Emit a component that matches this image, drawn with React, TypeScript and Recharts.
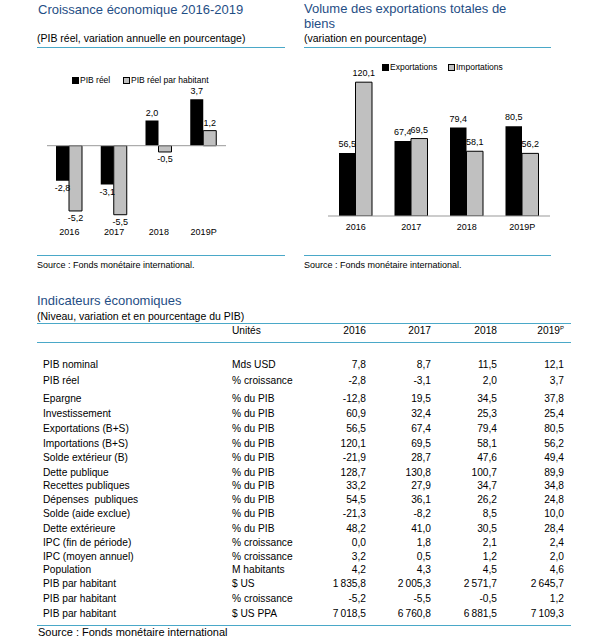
import React from 'react';
import { BarChart, Bar, XAxis, YAxis, ReferenceLine, LabelList } from 'recharts';

const YEARS = ['2016', '2017', '2018', '2019P'];
const PIB_REEL = [-2.8, -3.1, 2.0, 3.7];
const PIB_REEL_HABITANT = [-5.2, -5.5, -0.5, 1.2];
const EXPORTATIONS = [56.5, 67.4, 79.4, 80.5];
const IMPORTATIONS = [120.1, 69.5, 58.1, 56.2];

const TABLE_YEARS = ['2016', '2017', '2018', '2019'];
const INDICATEURS = [
  'PIB nominal',
  'PIB réel',
  'Epargne',
  'Investissement',
  'Exportations (B+S)',
  'Importations (B+S)',
  'Solde extérieur (B)',
  'Dette publique',
  'Recettes publiques',
  'Dépenses  publiques',
  'Solde (aide exclue)',
  'Dette extérieure',
  'IPC (fin de période)',
  'IPC (moyen annuel)',
  'Population',
  'PIB par habitant',
  'PIB par habitant',
  'PIB par habitant',
];
const UNITES = [
  'Mds USD',
  '% croissance',
  '% du PIB',
  '% du PIB',
  '% du PIB',
  '% du PIB',
  '% du PIB',
  '% du PIB',
  '% du PIB',
  '% du PIB',
  '% du PIB',
  '% du PIB',
  '% croissance',
  '% croissance',
  'M habitants',
  '$ US',
  '% croissance',
  '$ US PPA',
];
const VALEURS_2016 = [7.8, -2.8, -12.8, 60.9, 56.5, 120.1, -21.9, 128.7, 33.2, 54.5, -21.3, 48.2, 0.0, 3.2, 4.2, 1835.8, -5.2, 7018.5];
const VALEURS_2017 = [8.7, -3.1, 19.5, 32.4, 67.4, 69.5, 28.7, 130.8, 27.9, 36.1, -8.2, 41.0, 1.8, 0.5, 4.3, 2005.3, -5.5, 6760.8];
const VALEURS_2018 = [11.5, 2.0, 34.5, 25.3, 79.4, 58.1, 47.6, 100.7, 34.7, 26.2, 8.5, 30.5, 2.1, 1.2, 4.5, 2571.7, -0.5, 6881.5];
const VALEURS_2019 = [12.1, 3.7, 37.8, 25.4, 80.5, 56.2, 49.4, 89.9, 34.8, 24.8, 10.0, 28.4, 2.4, 2.0, 4.6, 2645.7, 1.2, 7109.3];

// row pitch of the table (layout only)
const ROW_PITCH = [16, 18, 15, 15, 15, 14, 15, 13, 14, 14, 15, 14, 14, 13, 14, 15, 15, 14];

const FONT = '"Liberation Sans", Arial, sans-serif';
const TITLE_COLOR = '#1f4e85';
const RULE_COLOR = '#4aa8c8';

function fmt(v: number) {
  const s = Math.abs(v).toFixed(1);
  const [int, dec] = s.split('.');
  const grouped = int.replace(/\B(?=(\d{3})+(?!\d))/g, '\u2009');
  return (v < 0 ? '-' : '') + grouped + ',' + dec;
}

const growthData = YEARS.map((year, i) => ({
  year,
  pib: PIB_REEL[i],
  hab: PIB_REEL_HABITANT[i],
}));

const tradeData = YEARS.map((year, i) => ({
  year,
  exp: EXPORTATIONS[i],
  imp: IMPORTATIONS[i],
}));

const tableRows = INDICATEURS.map((label, i) => ({
  label,
  unit: UNITES[i],
  values: [VALEURS_2016[i], VALEURS_2017[i], VALEURS_2018[i], VALEURS_2019[i]],
}));

const SignLabel = (props: any) => {
  const { x, y, width, height, value } = props;
  const top = Math.min(y, y + height);
  const bottom = Math.max(y, y + height);
  const ty = value >= 0 ? top - 5 : bottom + 10;
  return (
    <text x={x + width / 2} y={ty} textAnchor="middle" fontSize={9} fontFamily={FONT} fill="#000">
      {fmt(value)}
    </text>
  );
};

const TopLabel = (props: any) => {
  const { x, y, width, height, value } = props;
  const top = Math.min(y, y + height);
  return (
    <text x={x + width / 2} y={top - 6} textAnchor="middle" fontSize={9} fontFamily={FONT} fill="#000">
      {fmt(value)}
    </text>
  );
};

const abs = (left: number, top: number, extra: React.CSSProperties = {}): React.CSSProperties => ({
  position: 'absolute',
  left,
  top,
  ...extra,
});

function Rule({ left, top, width }: { left: number; top: number; width: number }) {
  return <div style={abs(left, top, { width, height: 1, background: RULE_COLOR })} />;
}

function LegendItem({ left, top, label, fill }: { left: number; top: number; label: string; fill: string }) {
  return (
    <div style={abs(left, top, { display: 'flex', alignItems: 'center', fontSize: 8.5, lineHeight: '9px', whiteSpace: 'nowrap' })}>
      <span style={{ display: 'inline-block', width: 5, height: 5, background: fill, border: '1px solid #000', marginRight: 1 }} />
      {label}
    </div>
  );
}

const COL_WIDTHS = [189, 90, 44, 65, 66, 67];

export default function App() {
  return (
    <div
      style={{
        position: 'absolute',
        left: 0,
        top: 0,
        width: 601,
        height: 643,
        background: '#fff',
        fontFamily: FONT,
        color: '#000',
        overflow: 'hidden',
      }}
    >
      {/* Chart 1 */}
      <div style={abs(38, 2.5, { fontSize: 13, lineHeight: '13px', color: TITLE_COLOR, whiteSpace: 'nowrap' })}>
        Croissance économique 2016-2019
      </div>
      <div style={abs(37, 32.5, { fontSize: 10.5, lineHeight: '10.5px', whiteSpace: 'nowrap' })}>
        (PIB réel, variation annuelle en pourcentage)
      </div>
      <Rule left={37} top={47} width={248} />
      <LegendItem left={72} top={75.5} label="PIB réel" fill="#000" />
      <LegendItem left={123} top={75.5} label="PIB réel par habitant" fill="#c0c0c0" />
      <div style={abs(0, 55)}>
        <BarChart
          width={300}
          height={195}
          data={growthData}
          margin={{ top: 40.5, right: 74, bottom: 4, left: 47 }}
          barGap={0}
        >
          <XAxis
            dataKey="year"
            axisLine={false}
            tickLine={false}
            height={25}
            interval={0}
            tick={{ fontSize: 9, fill: '#000', fontFamily: FONT }}
          />
          <YAxis hide type="number" domain={[-6, 4]} allowDataOverflow />
          <ReferenceLine y={0} stroke="#999" />
          <Bar dataKey="pib" fill="#000" barSize={13} isAnimationActive={false}>
            <LabelList dataKey="pib" content={SignLabel} />
          </Bar>
          <Bar dataKey="hab" fill="#c0c0c0" stroke="#000" strokeWidth={1} barSize={13} isAnimationActive={false}>
            <LabelList dataKey="hab" content={SignLabel} />
          </Bar>
        </BarChart>
      </div>
      <Rule left={37} top={255} width={248} />
      <div style={abs(37, 261, { fontSize: 9, lineHeight: '9px', whiteSpace: 'nowrap' })}>
        Source : Fonds monétaire international.
      </div>

      {/* Chart 2 */}
      <div style={abs(304, 0.5, { fontSize: 13, lineHeight: '15px', color: TITLE_COLOR, whiteSpace: 'nowrap' })}>
        Volume des exportations totales de
        <br />
        biens
      </div>
      <div style={abs(304, 32.5, { fontSize: 10.5, lineHeight: '10.5px', whiteSpace: 'nowrap' })}>
        (variation en pourcentage)
      </div>
      <Rule left={304} top={47} width={247} />
      <LegendItem left={382} top={62.5} label="Exportations" fill="#000" />
      <LegendItem left={448} top={62.5} label="Importations" fill="#c0c0c0" />
      <div style={abs(300, 55)}>
        <BarChart
          width={301}
          height={195}
          data={tradeData}
          margin={{ top: 5, right: 51, bottom: 9, left: 28 }}
          barGap={0}
        >
          <XAxis
            dataKey="year"
            axisLine={{ stroke: '#999' }}
            tickLine={false}
            height={25}
            interval={0}
            tick={{ fontSize: 9, fill: '#000', fontFamily: FONT }}
          />
          <YAxis hide type="number" domain={[0, 140]} allowDataOverflow />
          <Bar dataKey="exp" fill="#000" barSize={16.5} isAnimationActive={false}>
            <LabelList dataKey="exp" content={TopLabel} />
          </Bar>
          <Bar dataKey="imp" fill="#c0c0c0" stroke="#000" strokeWidth={1} barSize={16.5} isAnimationActive={false}>
            <LabelList dataKey="imp" content={TopLabel} />
          </Bar>
        </BarChart>
      </div>
      <Rule left={304} top={255} width={247} />
      <div style={abs(304, 261, { fontSize: 9, lineHeight: '9px', whiteSpace: 'nowrap' })}>
        Source : Fonds monétaire international.
      </div>

      {/* Table */}
      <div style={abs(37, 293.5, { fontSize: 13, lineHeight: '13px', color: TITLE_COLOR, whiteSpace: 'nowrap' })}>
        Indicateurs économiques
      </div>
      <div style={abs(37, 310.5, { fontSize: 10.5, lineHeight: '10.5px', whiteSpace: 'nowrap' })}>
        (Niveau, variation et en pourcentage du PIB)
      </div>
      <Rule left={37} top={323} width={534} />
      <div style={abs(43, 324, { display: 'flex', height: 14, lineHeight: '14px', fontSize: 10.2, whiteSpace: 'nowrap' })}>
        <div style={{ width: COL_WIDTHS[0] }} />
        <div style={{ width: COL_WIDTHS[1] }}>Unités</div>
        {TABLE_YEARS.map((y, j) => (
          <div key={y} style={{ width: COL_WIDTHS[j + 2], textAlign: 'right' }}>
            {y}
            {j === 3 && <sup style={{ fontSize: 6, lineHeight: 0, verticalAlign: 'super' }}>P</sup>}
          </div>
        ))}
      </div>
      <Rule left={37} top={342} width={534} />
      <div style={abs(43, 358)}>
        {tableRows.map((row, i) => (
          <div
            key={i}
            style={{ display: 'flex', height: ROW_PITCH[i], lineHeight: '14px', fontSize: 10.2, whiteSpace: 'pre' }}
          >
            <div style={{ width: COL_WIDTHS[0] }}>{row.label}</div>
            <div style={{ width: COL_WIDTHS[1] }}>{row.unit}</div>
            {row.values.map((v, j) => (
              <div key={j} style={{ width: COL_WIDTHS[j + 2], textAlign: 'right' }}>
                {fmt(v)}
              </div>
            ))}
          </div>
        ))}
      </div>
      <Rule left={37} top={625} width={534} />
      <div style={abs(38, 627, { fontSize: 11, lineHeight: '11px', whiteSpace: 'nowrap' })}>
        Source : Fonds monétaire international
      </div>
    </div>
  );
}
